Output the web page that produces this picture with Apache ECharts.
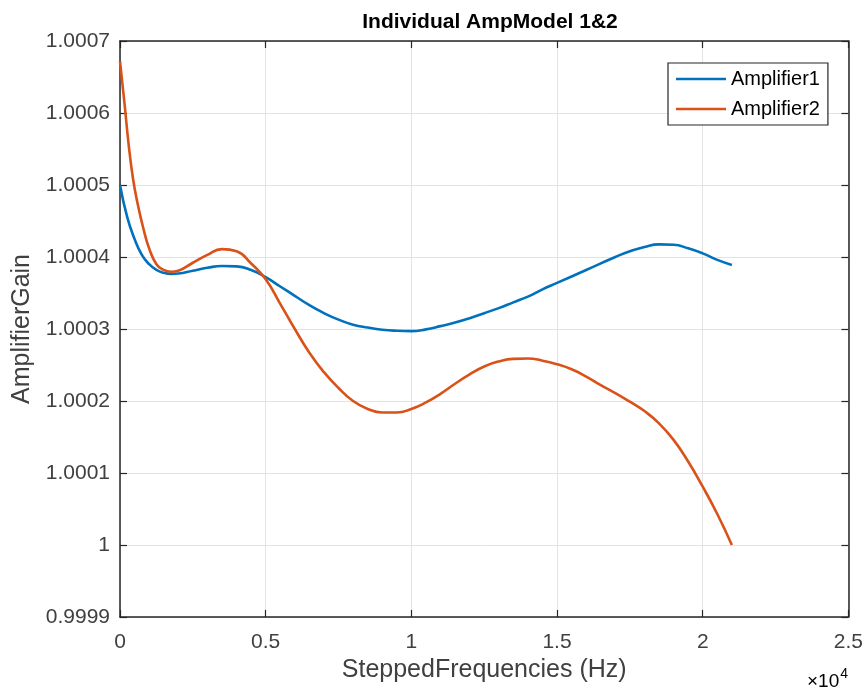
<!DOCTYPE html>
<html>
<head>
<meta charset="utf-8">
<script src="https://cdn.jsdelivr.net/npm/echarts@6/dist/echarts.min.js"></script>
<style>html,body{margin:0;padding:0;background:#fff}#c{width:866px;height:693px}</style>
</head>
<body>
<div id="c"></div>
<script>
// Frequencies (Hz)
const freqA1 = [0,250,500,750,1000,1250,1500,1750,2000,2500,3000,3500,4000,4500,5000,5500,6000,6500,7000,7500,8000,8500,9000,9500,10000,10500,11000,11500,12000,12500,13000,13500,14000,14500,15000,16000,17000,17500,18000,18500,19000,19500,20000,20500,21000];
const gainA1 = [1.000500,1.000455,1.000425,1.000403,1.000390,1.000382,1.000378,1.0003765,1.000377,1.000381,1.000385,1.0003875,1.000387,1.000382,1.000372,1.000359,1.000346,1.000333,1.000322,1.000313,1.000306,1.000302,1.000299,1.0002975,1.000297,1.0002995,1.000304,1.000309,1.000315,1.000322,1.000329,1.000337,1.000345,1.000355,1.000364,1.000382,1.000400,1.000408,1.000414,1.0004175,1.000417,1.000412,1.000405,1.000396,1.000389];
const freqA2 = [0,150,300,450,600,800,1000,1250,1500,1750,2000,2500,3000,3500,4000,4500,5000,5500,6000,6500,7000,7500,8000,8500,9000,9500,10000,10500,11000,11500,12000,12500,13000,13500,14000,14500,15000,15500,16000,16500,17000,17500,18000,18500,19000,19500,20000,20500,21000];
const gainA2 = [1.000672,1.000615,1.000555,1.000508,1.000475,1.000440,1.000412,1.000390,1.000382,1.0003795,1.000381,1.000392,1.000403,1.000411,1.000408,1.000391,1.000369,1.000335,1.000300,1.000267,1.000240,1.000218,1.000200,1.000189,1.000184,1.000184,1.000189,1.000198,1.000210,1.000224,1.000237,1.000248,1.000255,1.0002585,1.000259,1.000256,1.000251,1.000244,1.000234,1.000222,1.000211,1.000199,1.000186,1.000169,1.000146,1.000116,1.000081,1.000043,1.000000];
const xTicks = [0, 5000, 10000, 15000, 20000, 25000];
const yTicks = [0.9999, 1.0000, 1.0001, 1.0002, 1.0003, 1.0004, 1.0005, 1.0006, 1.0007];
const seriesNames = ['Amplifier1', 'Amplifier2'];

const FONT = '"Liberation Sans", Arial, sans-serif';
const LABEL = '#404040';
const AXIS = '#262626';
const chart = echarts.init(document.getElementById('c'), null, {renderer: 'canvas'});
const pair = (xs, ys) => xs.map((x, i) => [x, ys[i]]);
const xFmt = v => String(+(v / 10000).toFixed(2));
const yFmt = v => String(+(+v).toFixed(4));

chart.setOption({
  animation: false,
  backgroundColor: '#fff',
  title: {
    text: 'Individual AmpModel 1&2', left: 485, top: 7, textAlign: 'center',
    textStyle: {fontFamily: FONT, fontSize: 21, fontWeight: 'bold', color: '#000'}
  },
  grid: {left: 120, right: 16, top: 41, bottom: 76, containLabel: false},
  legend: {
    data: seriesNames, orient: 'vertical', left: 668, top: 63,
    icon: 'rect', itemWidth: 50, itemHeight: 2.5, itemGap: 10,
    padding: [6, 8, 6, 8],
    borderColor: '#262626', borderWidth: 1.2, backgroundColor: '#fff',
    textStyle: {fontFamily: FONT, fontSize: 20, color: '#000', lineHeight: 20}
  },
  xAxis: [
    {
      type: 'value', min: xTicks[0], max: xTicks[xTicks.length - 1], interval: 5000,
      position: 'bottom',
      axisLine: {show: true, onZero: false, lineStyle: {color: AXIS, width: 1.5}},
      axisTick: {show: true, inside: true, length: 7, lineStyle: {color: AXIS, width: 1.2}},
      name: 'SteppedFrequencies (Hz)', nameLocation: 'middle', nameGap: 40,
      nameTextStyle: {fontFamily: FONT, fontSize: 25, color: LABEL},
      axisLabel: {fontFamily: FONT, fontSize: 21, color: LABEL, margin: 15, formatter: xFmt},
      splitLine: {show: true, lineStyle: {color: '#e3e3e3', width: 1}}
    },
    {
      type: 'value', min: xTicks[0], max: xTicks[xTicks.length - 1], interval: 5000,
      position: 'top',
      axisLine: {show: true, onZero: false, lineStyle: {color: AXIS, width: 1.5}},
      axisTick: {show: true, inside: true, length: 7, lineStyle: {color: AXIS, width: 1.2}},
      axisLabel: {show: false}, splitLine: {show: false}
    }
  ],
  yAxis: [
    {
      type: 'value', min: yTicks[0], max: yTicks[yTicks.length - 1], interval: 0.0001,
      position: 'left',
      axisLine: {show: true, onZero: false, lineStyle: {color: AXIS, width: 1.5}},
      axisTick: {show: true, inside: true, length: 7, lineStyle: {color: AXIS, width: 1.2}},
      name: 'AmplifierGain', nameLocation: 'middle', nameGap: 85,
      nameTextStyle: {fontFamily: FONT, fontSize: 25, color: LABEL},
      axisLabel: {fontFamily: FONT, fontSize: 21, color: LABEL, margin: 10, formatter: yFmt},
      splitLine: {show: true, lineStyle: {color: '#e3e3e3', width: 1}}
    },
    {
      type: 'value', min: yTicks[0], max: yTicks[yTicks.length - 1], interval: 0.0001,
      position: 'right',
      axisLine: {show: true, onZero: false, lineStyle: {color: AXIS, width: 1.5}},
      axisTick: {show: true, inside: true, length: 7, lineStyle: {color: AXIS, width: 1.2}},
      axisLabel: {show: false}, splitLine: {show: false}
    }
  ],
  graphic: [{
    type: 'text', right: 18, top: 667,
    style: {
      text: '{a|×10}{b|4}', fontFamily: FONT,
      rich: {
        a: {fontFamily: FONT, fontSize: 19, color: LABEL, verticalAlign: 'bottom'},
        b: {fontFamily: FONT, fontSize: 14, color: LABEL, verticalAlign: 'top', padding: [0, 0, 10, 1]}
      }
    }
  }],
  series: [
    {
      name: seriesNames[0], type: 'line', data: pair(freqA1, gainA1),
      smooth: 0.5, showSymbol: false, symbol: 'none',
      lineStyle: {color: '#0072BD', width: 2.6}, itemStyle: {color: '#0072BD'}
    },
    {
      name: seriesNames[1], type: 'line', data: pair(freqA2, gainA2),
      smooth: 0.5, showSymbol: false, symbol: 'none',
      lineStyle: {color: '#D95319', width: 2.6}, itemStyle: {color: '#D95319'}
    }
  ]
});
</script>
</body>
</html>
